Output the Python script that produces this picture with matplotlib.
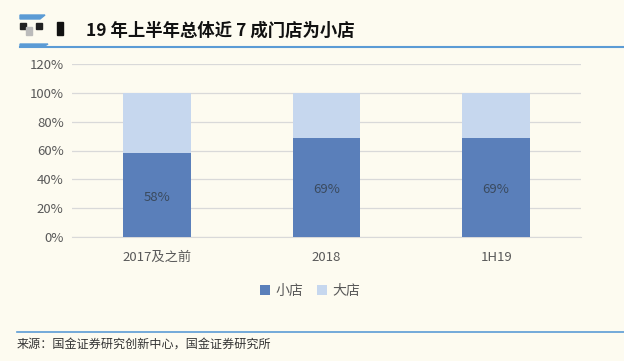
import matplotlib
matplotlib.use("Agg")
import matplotlib.pyplot as plt
from matplotlib.patches import Rectangle, Polygon
from matplotlib.lines import Line2D

plt.rcParams['font.family'] = ['Noto Sans CJK SC', 'DejaVu Sans']

categories = ["2017及之前", "2018", "1H19"]
small_share = [0.58, 0.69, 0.69]
large_share = [0.42, 0.31, 0.31]
series_names = ["小店", "大店"]
title = "19 年上半年总体近 7 成门店为小店"
source = "来源：国金证券研究创新中心，国金证券研究所"

bg = "#FDFBF0"
c_small = "#5A7FBA"
c_large = "#C6D7EE"
txt = "#595959"

W, H = 624, 361
fig = plt.figure(figsize=(W/100, H/100), dpi=100, facecolor=bg)

def fx(x): return x / W
def fy(y): return 1 - y / H

ax = fig.add_axes([fx(72), fy(237), fx(581) - fx(72), fy(64) - fy(237)], facecolor=bg)
x = range(len(categories))
ax.bar(x, small_share, width=0.4, color=c_small, label=series_names[0], zorder=3)
ax.bar(x, large_share, width=0.4, bottom=small_share, color=c_large, label=series_names[1], zorder=3)
for i, v in enumerate(small_share):
    ax.text(i, v / 2 - 0.015, f"{round(v*100)}%", ha="center", va="center", fontsize=9.5,
            color="#3A4A5E", zorder=4)

ax.set_xlim(-0.5, len(categories) - 0.5)
ax.set_ylim(0, 1.2)
ax.set_yticks([i * 0.2 for i in range(7)])
ax.set_yticklabels([f"{i*20}%" for i in range(7)], fontsize=9.5, color=txt)
ax.set_xticks(list(x))
ax.set_xticklabels(categories, fontsize=9.5, color=txt)
ax.yaxis.grid(True, color="#D9D9D9", linewidth=0.9, zorder=0)
for s in ax.spines.values():
    s.set_visible(False)
ax.spines['bottom'].set_visible(True)
ax.spines['bottom'].set_color("#D9D9D9")
ax.tick_params(length=0, pad=6)
ax.tick_params(axis='x', pad=10)

leg = fig.legend(loc="center", bbox_to_anchor=(fx(310), fy(291)), ncol=2, frameon=False,
                 fontsize=10, handlelength=0.7, handleheight=0.7, handletextpad=0.4, columnspacing=1.0)
for t in leg.get_texts():
    t.set_color(txt)

# header decoration
fig.add_artist(Line2D([fx(20), fx(624)], [fy(47), fy(47)], color="#5B9BD5", linewidth=1.5))
fig.add_artist(Line2D([fx(17), fx(624)], [fy(332), fy(332)], color="#5B9BD5", linewidth=1.2))
fig.add_artist(Polygon([[fx(20), fy(15)], [fx(45), fy(15)], [fx(40), fy(19)], [fx(20), fy(19)]],
                       closed=True, color="#5B9BD5"))
fig.add_artist(Polygon([[fx(20), fy(44)], [fx(48), fy(44)], [fx(43), fy(47)], [fx(20), fy(47)]],
                       closed=True, color="#5B9BD5"))
for (x0, y0, w, h, c) in [(20, 23, 6, 6, "#222222"), (26, 27, 6, 8, "#BBBBBB"), (36, 23, 6, 6, "#222222"),
                          (57, 22, 6, 13, "#111111")]:
    fig.add_artist(Rectangle((fx(x0), fy(y0 + h)), w / W, h / H, color=c))

fig.text(fx(86), fy(31), title, fontsize=12.5, fontweight="bold", style="italic", color="#111111",
         ha="left", va="center")
fig.text(fx(17), fy(344), source, fontsize=8.7, color="#333333", ha="left", va="center")

fig.savefig("out.png", dpi=100, facecolor=bg)
